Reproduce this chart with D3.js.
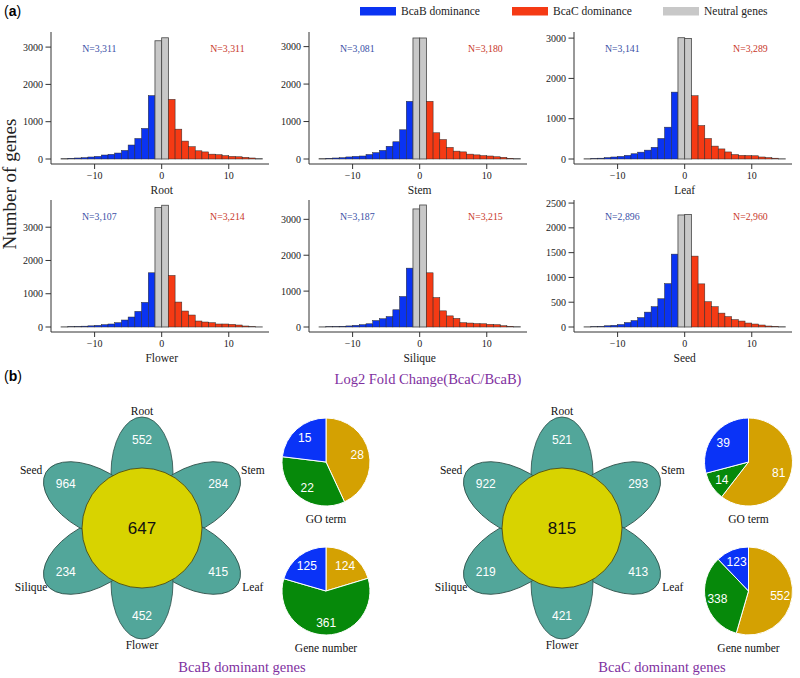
<!DOCTYPE html>
<html><head><meta charset="utf-8">
<script src="https://cdn.jsdelivr.net/npm/d3@7"></script>
<style>body{margin:0;background:#fff} svg{display:block}</style>
</head><body>
<svg id="c" width="800" height="678"></svg>
<script>
// ---------- DATA ----------
const binStarts = [-15,-14,-13,-12,-11,-10,-9,-8,-7,-6,-5,-4,-3,-2,-1,0,1,2,3,4,5,6,7,8,9,10,11,12,13,14];
const tissues = ["Root","Stem","Leaf","Flower","Silique","Seed"];
const rootCounts    = [10,18,27,36,54,70,107,125,160,230,375,550,820,1700,3170,3250,1600,800,480,330,220,190,130,115,90,70,60,45,27,10];
const stemCounts    = [10,18,27,35,55,70,80,120,170,230,340,460,780,1540,3230,3230,1540,700,520,310,210,190,130,110,90,80,60,45,20,10];
const leafCounts    = [5,12,20,35,50,65,90,130,170,220,290,510,790,1660,3010,2990,1570,830,510,320,250,175,110,90,85,80,50,35,20,5];
const flowerCounts  = [4,8,15,25,35,50,70,90,130,210,300,470,740,1630,3590,3660,1550,750,480,360,180,150,130,90,90,80,60,30,10,3];
const siliqueCounts = [3,8,12,20,30,47,65,90,180,230,290,480,850,1640,3290,3400,1510,820,450,310,240,120,110,95,90,75,65,35,20,8];
const seedCounts    = [3,6,12,25,35,50,90,130,190,300,410,570,875,1470,2260,2270,1430,870,510,410,280,210,150,120,80,60,40,20,12,5];
const histCounts = [rootCounts, stemCounts, leafCounts, flowerCounts, siliqueCounts, seedCounts];
const nBcaB = ["N=3,311","N=3,081","N=3,141","N=3,107","N=3,187","N=2,896"];
const nBcaC = ["N=3,311","N=3,180","N=3,289","N=3,214","N=3,215","N=2,960"];
const yTickSets = [[0,1000,2000,3000],[0,1000,2000,3000],[0,1000,2000,3000],[0,1000,2000,3000],[0,1000,2000,3000],[0,500,1000,1500,2000,2500]];
const yTops = [3405, 3390, 3152, 3818, 3539, 2562];
const xDomain = [-16.5, 16];
const xTicks = [-10, 0, 10];
const legendLabels = ["BcaB dominance","BcaC dominance","Neutral genes"];

const vennTissues = ["Root","Stem","Leaf","Flower","Silique","Seed"];
const petalAngles = [90, 30, -30, -90, -150, 150];
const bcabUnique = [552, 284, 415, 452, 234, 964];
const bcacUnique = [521, 293, 413, 421, 219, 922];
const coreCounts = [647, 815];
const groupTitles = ["BcaB dominant genes","BcaC dominant genes"];
const pieTitles = ["GO term","Gene number"];
const goBcaB   = [28, 22, 15];
const geneBcaB = [124, 361, 125];
const goBcaC   = [81, 14, 39];
const geneBcaC = [552, 338, 123];

// ---------- STYLE ----------
const SERIF = "'Liberation Serif','Times New Roman',serif";
const SANS = "'Liberation Sans',Arial,sans-serif";
const C_BLUE = "#0a33f2", C_RED = "#f53a14", C_GRAY = "#c8c8c8";
const C_BLUE_T = "#3a4fa6", C_RED_T = "#c8382a", PURPLE = "#7f30a0";
const PETAL = "#52a69a", CORE = "#d8d300";
const PIE_COLS = ["#d4a102", "#06890a", "#0a33f7"];

const svg = d3.select("#c");

// ---------- PANEL (a) ----------
const colL = [51, 309, 574], W = 218;
const rowT = [32, 200], H0 = 127, AX = 132;

svg.append("text").attr("x", 4).attr("y", 16).attr("font-family", SANS).attr("font-size", 14)
  .html('(<tspan font-weight="bold">a</tspan>)');

// legend
const legX = [360, 512, 663];
const legCols = [C_BLUE, C_RED, C_GRAY];
legendLabels.forEach((t, i) => {
  svg.append("rect").attr("x", legX[i]).attr("y", 7).attr("width", 36).attr("height", 8.5).attr("fill", legCols[i]);
  svg.append("text").attr("x", legX[i] + 41).attr("y", 15).attr("font-family", SERIF).attr("font-size", 11.5)
    .attr("fill", "#222").text(t);
});

function binClass(s) {
  if (s <= -15 || s >= 14) return "n";
  if (s < -1) return "b";
  if (s >= 1) return "c";
  return "n";
}

tissues.forEach((tis, k) => {
  const L = colL[k % 3], T = rowT[Math.floor(k / 3)];
  const x = d3.scaleLinear().domain(xDomain).range([L, L + W]);
  const y = d3.scaleLinear().domain([0, yTops[k]]).range([T + H0, T]);
  const g = svg.append("g");
  const counts = histCounts[k];
  g.selectAll("rect.bar").data(binStarts).join("rect")
    .attr("x", s => x(s))
    .attr("width", s => x(s + 1) - x(s))
    .attr("y", (s, i) => y(counts[i]))
    .attr("height", (s, i) => y(0) - y(counts[i]))
    .attr("fill", s => ({b: C_BLUE, c: C_RED, n: C_GRAY})[binClass(s)])
    .attr("stroke", s => binClass(s) === "n" ? "#444" : "#2a2a2a")
    .attr("stroke-width", s => binClass(s) === "n" ? 0.8 : 0.5);

  // L box
  g.append("path").attr("d", `M${L},${T}V${T + AX}H${L + W}`).attr("fill", "none").attr("stroke", "#333").attr("stroke-width", 1);

  // y axis ticks
  const yt = yTickSets[k];
  g.selectAll("line.yt").data(yt).join("line")
    .attr("x1", L - 5.5).attr("x2", L).attr("y1", d => y(d)).attr("y2", d => y(d)).attr("stroke", "#333");
  g.selectAll("text.yt").data(yt).join("text")
    .attr("x", L - 8).attr("y", d => y(d)).attr("dy", "0.35em").attr("text-anchor", "end")
    .attr("font-family", SERIF).attr("font-size", 10).attr("fill", "#222").text(d => d);

  // x axis ticks
  g.selectAll("line.xt").data(xTicks).join("line")
    .attr("x1", d => x(d)).attr("x2", d => x(d)).attr("y1", T + AX).attr("y2", T + AX + 5).attr("stroke", "#333");
  g.selectAll("text.xt").data(xTicks).join("text")
    .attr("x", d => x(d)).attr("y", T + AX + 15).attr("text-anchor", "middle")
    .attr("font-family", SERIF).attr("font-size", 10).attr("fill", "#222")
    .text(d => d < 0 ? "\u2212" + Math.abs(d) : d);

  g.append("text").attr("x", x(0)).attr("y", T + AX + 30).attr("text-anchor", "middle")
    .attr("font-family", SERIF).attr("font-size", 11.5).attr("fill", "#222").text(tis);

  g.append("text").attr("x", x(-9.3)).attr("y", T + 20).attr("text-anchor", "middle")
    .attr("font-family", SERIF).attr("font-size", 9.8).attr("fill", C_BLUE_T).text(nBcaB[k]);
  g.append("text").attr("x", x(9.8)).attr("y", T + 20).attr("text-anchor", "middle")
    .attr("font-family", SERIF).attr("font-size", 9.8).attr("fill", C_RED_T).text(nBcaC[k]);
});

svg.append("text").attr("transform", "translate(16,184) rotate(-90)").attr("text-anchor", "middle")
  .attr("font-family", SERIF).attr("font-size", 19).attr("fill", "#222").text("Number of genes");
svg.append("text").attr("x", 428).attr("y", 384).attr("text-anchor", "middle")
  .attr("font-family", SERIF).attr("font-size", 14.5).attr("fill", PURPLE).text("Log2 Fold Change(BcaC/BcaB)");

// ---------- PANEL (b) ----------
svg.append("text").attr("x", 4).attr("y", 381).attr("font-family", SANS).attr("font-size", 14)
  .html('(<tspan font-weight="bold">b</tspan>)');

const vennCx = [142, 562], vennCy = 528;
const pieCx = [326, 748.5], pieCy = [462, 591];
const uniques = [bcabUnique, bcacUnique];
const pies = [[goBcaB, geneBcaB], [goBcaC, geneBcaC]];
const rad = Math.PI / 180;

[0, 1].forEach(gi => {
  const cx = vennCx[gi], cy = vennCy;
  const g = svg.append("g");
  petalAngles.forEach((a, i) => {
    const px = cx + 55 * Math.cos(a * rad), py = cy - 55 * Math.sin(a * rad);
    g.append("ellipse").attr("transform", `translate(${px},${py}) rotate(${-a})`)
      .attr("rx", 56).attr("ry", 31).attr("fill", PETAL).attr("stroke", "#2c4d47").attr("stroke-width", 0.8);
  });
  g.append("circle").attr("cx", cx).attr("cy", cy).attr("r", 60).attr("fill", CORE)
    .attr("stroke", "#3a3a1a").attr("stroke-width", 0.8);
  g.append("text").attr("x", cx).attr("y", cy).attr("dy", "0.35em").attr("text-anchor", "middle")
    .attr("font-family", SANS).attr("font-size", 17).attr("fill", "#111").text(coreCounts[gi]);
  petalAngles.forEach((a, i) => {
    g.append("text").attr("x", cx + 88 * Math.cos(a * rad)).attr("y", cy - 88 * Math.sin(a * rad))
      .attr("dy", "0.35em").attr("text-anchor", "middle").attr("font-family", SANS).attr("font-size", 12)
      .attr("fill", "#fff").text(uniques[gi][i]);
    g.append("text").attr("x", cx + 128 * Math.cos(a * rad)).attr("y", cy - 117 * Math.sin(a * rad))
      .attr("dy", "0.35em").attr("text-anchor", "middle").attr("font-family", SERIF).attr("font-size", 11.5)
      .attr("fill", "#111").text(vennTissues[i]);
  });
  // pies
  const pieGen = d3.pie().sort(null).value(d => d);
  const arc = d3.arc().innerRadius(0).outerRadius(44);
  const lab = d3.arc().innerRadius(32).outerRadius(32);
  pies[gi].forEach((vals, pi) => {
    const pg = svg.append("g").attr("transform", `translate(${pieCx[gi]},${pieCy[pi]})`);
    const arcs = pieGen(vals);
    pg.selectAll("path").data(arcs).join("path").attr("d", arc)
      .attr("fill", (d, i) => PIE_COLS[i]).attr("stroke", "#fff").attr("stroke-width", 1);
    pg.selectAll("text").data(arcs).join("text")
      .attr("transform", d => `translate(${lab.centroid(d)})`).attr("dy", "0.35em").attr("text-anchor", "middle")
      .attr("font-family", SANS).attr("font-size", 12).attr("fill", "#fff").text(d => d.data);
    svg.append("text").attr("x", pieCx[gi]).attr("y", pieCy[pi] + 57).attr("dy", "0.35em").attr("text-anchor", "middle")
      .attr("font-family", SERIF).attr("font-size", 11.5).attr("fill", "#111").text(pieTitles[pi]);
  });
  svg.append("text").attr("x", [242, 662][gi]).attr("y", 667).attr("dy", "0.35em").attr("text-anchor", "middle")
    .attr("font-family", SERIF).attr("font-size", 14.5).attr("fill", PURPLE).text(groupTitles[gi]);
});
</script>
</body></html>
